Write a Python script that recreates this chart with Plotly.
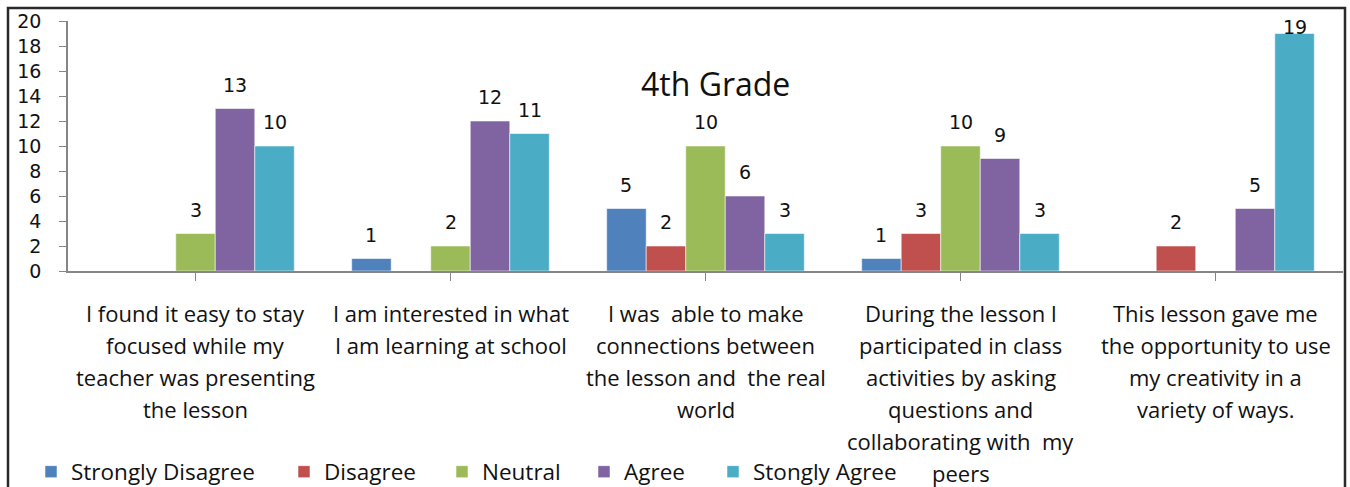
import plotly.graph_objects as go

categories = [
    "I found it easy to stay<br>focused while my<br>teacher was presenting<br>the lesson",
    "I am interested in what<br>I am learning at school",
    "I was  able to make<br>connections between<br>the lesson and  the real<br>world",
    "During the lesson I<br>participated in class<br>activities by asking<br>questions and<br>collaborating with  my<br>peers",
    "This lesson gave me<br>the opportunity to use<br>my creativity in a<br>variety of ways.",
]
series_names = ["Strongly Disagree", "Disagree", "Neutral", "Agree", "Stongly Agree"]
strongly_disagree = [0, 1, 5, 1, 0]
disagree = [0, 0, 2, 3, 2]
neutral = [3, 2, 10, 10, 0]
agree = [13, 12, 6, 9, 5]
strongly_agree = [10, 11, 3, 3, 19]
colors = ["#4F81BD", "#C0504D", "#9BBB59", "#8064A2", "#4BACC6"]
y_ticks = list(range(0, 21, 2))

series_values = [strongly_disagree, disagree, neutral, agree, strongly_agree]

W, H = 1350, 487
ML, MT = 68, 21
PR, PB = 1343, 271
MR, MB = W - PR, H - PB
PW, PH = PR - ML, PB - MT
YMAX = 20
BARGAP = 0.225
px_per_unit = PH / YMAX


def px_x(sx):
    return (sx - ML) / PW


def px_y(sy):
    return (PB - sy) / PH


cat_font = "Open Sans, Calibri, Carlito, sans-serif"
num_font = "DejaVu Sans, Verdana, sans-serif"

legend_left = [45, 298, 456, 598, 727]

xs = list(range(len(categories)))
fig = go.Figure()
legend_layouts = {}
for k, (name, vals, col) in enumerate(zip(series_names, series_values, colors)):
    lname = "legend" if k == 0 else f"legend{k + 1}"
    fig.add_trace(go.Bar(
        x=xs, y=vals, name=name, legend=lname,
        marker=dict(color=col, line=dict(color="rgba(255,255,255,0.55)", width=1)),
    ))
    legend_layouts[lname] = dict(
        orientation="h", xref="container", yref="container",
        x=(legend_left[k] - 14) / W, xanchor="left",
        y=1 - 472 / H, yanchor="middle",
        font=dict(family=cat_font, size=22.5, color="#111111"),
        bgcolor="rgba(0,0,0,0)", borderwidth=0,
    )

annotations = []
nser = len(series_values)
bw = (1 - BARGAP) / nser
for j, vals in enumerate(series_values):
    for i, v in enumerate(vals):
        if v == 0:
            continue
        # label sits ~24px above the bar, but is kept inside the chart area
        shift = min(24, (YMAX - v) * px_per_unit - 6)
        annotations.append(dict(
            x=i + (j - (nser - 1) / 2) * bw, y=v, xref="x", yref="y",
            text=str(v), showarrow=False, yshift=shift, yanchor="middle",
            font=dict(family=num_font, size=19, color="#111111"),
        ))

for i, lab in enumerate(categories):
    for k, line in enumerate(lab.split("<br>")):
        annotations.append(dict(
            x=i, y=0, xref="x", yref="paper", text=line.replace("  ", "&nbsp; "),
            showarrow=False, yanchor="middle", yshift=-(42 + 32 * k),
            font=dict(family=cat_font, size=22, color="#111111"),
        ))

annotations.append(dict(
    x=px_x(716), y=px_y(83), xref="paper", yref="paper",
    text="4th Grade", showarrow=False, xanchor="center", yanchor="middle",
    font=dict(family=cat_font, size=32, color="#111111"),
))

fig.update_layout(
    width=W, height=H,
    margin=dict(l=ML, r=MR, t=MT, b=MB, autoexpand=False),
    paper_bgcolor="white", plot_bgcolor="white",
    barmode="group", bargap=BARGAP, bargroupgap=0,
    showlegend=True,
    annotations=annotations,
    xaxis=dict(range=[-0.5, len(categories) - 0.5], showticklabels=False,
               tickmode="array", tickvals=xs, tickson="boundaries",
               ticks="outside", ticklen=8, tickcolor="#868686",
               showline=True, linecolor="#868686", linewidth=1.5,
               showgrid=False, zeroline=False, fixedrange=True),
    yaxis=dict(range=[0, YMAX], tickmode="array", tickvals=y_ticks,
               ticks="outside", ticklen=7, tickcolor="#868686",
               showline=True, linecolor="#868686", linewidth=1.5,
               showgrid=False, zeroline=False, ticklabelstandoff=14,
               tickfont=dict(family=num_font, size=19, color="#111111")),
    shapes=[dict(type="rect", xref="paper", yref="paper",
                 x0=px_x(8), x1=px_x(1345),
                 y0=-1.2, y1=px_y(8),
                 line=dict(color="#2a2a2a", width=2.5), fillcolor="rgba(0,0,0,0)")],
    **legend_layouts,
)

fig.write_html(
    "out.html",
    config={"displayModeBar": False},
    post_script="document.body.style.margin='0';document.body.style.overflow='hidden';",
)
